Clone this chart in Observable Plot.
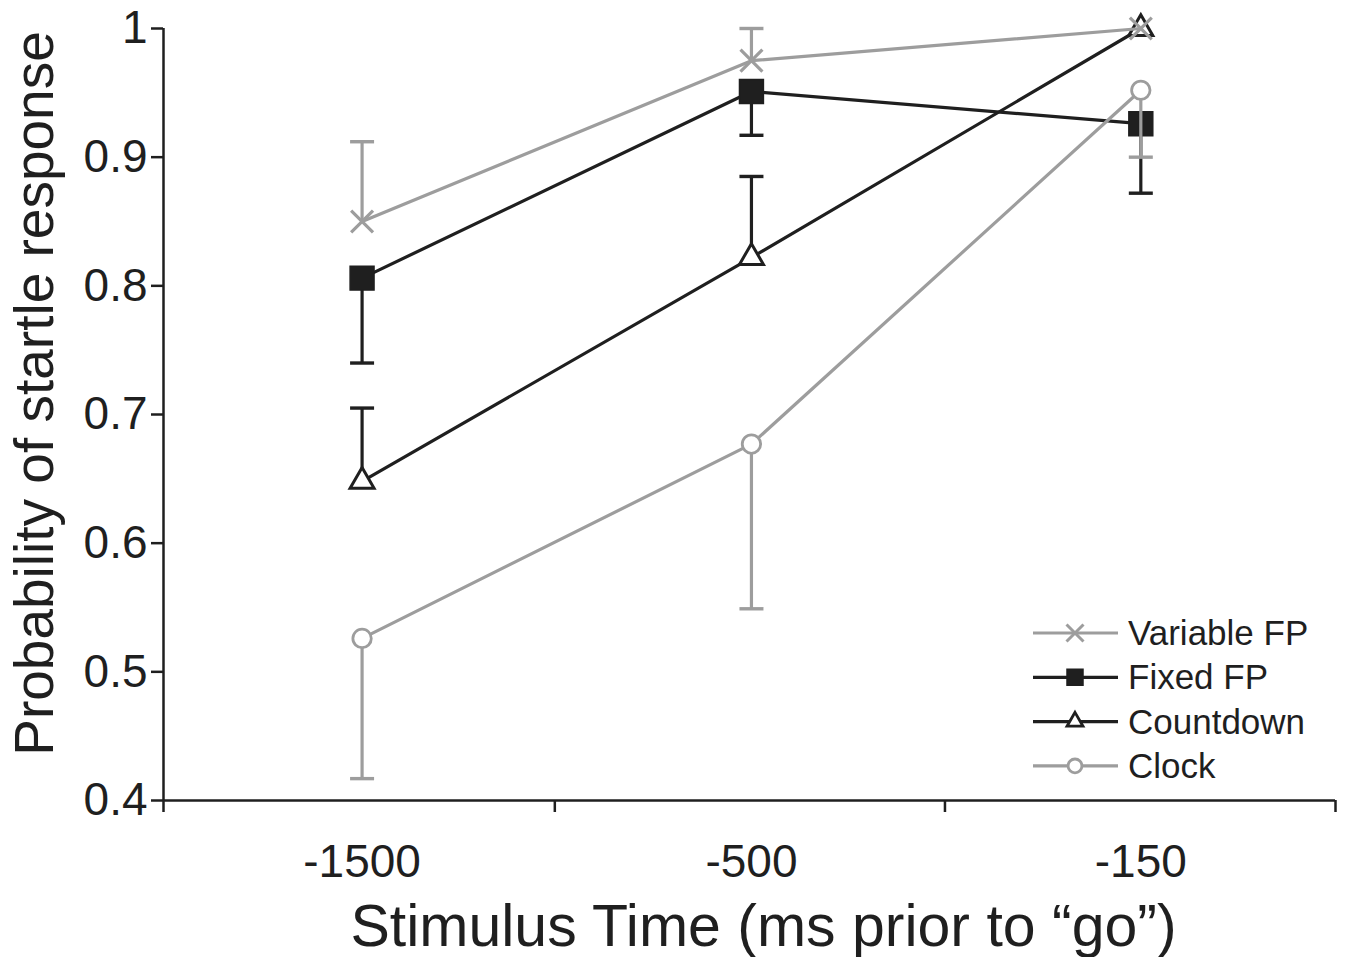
<!DOCTYPE html>
<html>
<head>
<meta charset="utf-8">
<script src="https://cdn.jsdelivr.net/npm/d3@7"></script>
<script src="https://cdn.jsdelivr.net/npm/@observablehq/plot@0.6"></script>
<style>
  html, body { margin: 0; padding: 0; background: #fff; }
  #wrap { position: relative; width: 1345px; height: 957px; }
  #legend { position: absolute; left: 1020px; top: 605px; }
</style>
</head>
<body>
<div id="wrap"><div id="chart"></div><div id="legend"></div></div>
<script>
// ---- data ----
const categories = ["-1500", "-500", "-150"];
const seriesNames = ["Variable FP", "Fixed FP", "Countdown", "Clock"];
const variableFP = [0.85, 0.975, 1.0];
const variableFPErr = [0.062, 0.025, 0];     // upper error
const fixedFP = [0.806, 0.951, 0.926];
const fixedFPErr = [0.066, 0.034, 0.054];    // lower error
const countdown = [0.648, 0.822, 1.0];
const countdownErr = [0.057, 0.063, 0];      // upper error
const clock = [0.526, 0.677, 0.952];
const clockErr = [0.109, 0.128, 0.052];      // lower error
const yTicks = [0.4, 0.5, 0.6, 0.7, 0.8, 0.9, 1];
const xDomain = [-0.51, 2.5];
const xBoundaries = [-0.51, 0.495, 1.497, 2.5];

const BLACK = "#1f1f1f", GRAY = "#9d9d9d";
const FONT = "'Liberation Sans', Arial, Helvetica, sans-serif";

const capSymbol = { draw(ctx, size) { const w = Math.sqrt(size) / 2; ctx.moveTo(-w, 0); ctx.lineTo(w, 0); } };

const series = [
  { name: "Fixed FP", values: fixedFP, err: fixedFPErr, dir: -1, color: BLACK, symbol: "square", fill: BLACK, r: 13.5, sw: 1.5 },
  { name: "Countdown", values: countdown, err: countdownErr, dir: 1, color: BLACK, symbol: "triangle", fill: "white", r: 8.9, sw: 3 },
  { name: "Variable FP", values: variableFP, err: variableFPErr, dir: 1, color: GRAY, symbol: "times", fill: "none", r: 10, sw: 3.2 },
  { name: "Clock", values: clock, err: clockErr, dir: -1, color: GRAY, symbol: "circle", fill: "white", r: 9.2, sw: 2.8 }
];

const marks = [];
for (const s of series) {
  const rows = categories.map((c, i) => ({ i, v: s.values[i], e: s.values[i] + s.dir * s.err[i], hasErr: s.err[i] > 0 }));
  const errRows = rows.filter(d => d.hasErr);
  marks.push(Plot.line(rows, { x: "i", y: "v", stroke: s.color, strokeWidth: 3.2 }));
  marks.push(Plot.ruleX(errRows, { x: "i", y1: "v", y2: "e", stroke: s.color, strokeWidth: 3.2 }));
  marks.push(Plot.dot(errRows, { x: "i", y: "e", symbol: capSymbol, r: 24 / Math.sqrt(Math.PI), stroke: s.color, strokeWidth: 3.4 }));
  marks.push(Plot.dot(rows, { x: "i", y: "v", symbol: s.symbol, r: s.r, stroke: s.color, fill: s.fill, strokeWidth: s.sw, strokeLinejoin: "miter" }));
}

const chart = Plot.plot({
  width: 1345,
  height: 957,
  marginLeft: 163,
  marginRight: 10,
  marginTop: 28,
  marginBottom: 157,
  style: { fontFamily: FONT, background: "white", color: BLACK },
  x: { type: "linear", domain: xDomain },
  y: { domain: [yTicks[0], yTicks[yTicks.length - 1]] },
  marks: [
    Plot.ruleX([xDomain[0]], { y1: yTicks[0], y2: yTicks[yTicks.length - 1], stroke: BLACK, strokeWidth: 2.5 }),
    Plot.ruleY([yTicks[0]], { x1: xDomain[0], x2: xDomain[1], stroke: BLACK, strokeWidth: 2.5 }),
    Plot.axisY({ ticks: yTicks, tickSize: 12, tickPadding: 4, strokeWidth: 2.5, fontSize: 46, label: null,
      tickFormat: d => (d === 1 ? "1" : d.toFixed(1)), color: BLACK }),
    Plot.axisX({ ticks: xBoundaries, tickSize: 12, strokeWidth: 2.5, tickFormat: () => "", label: null, color: BLACK }),
    Plot.axisX({ ticks: [0, 1, 2], tickSize: 0, tickPadding: 44, fontSize: 46, label: null,
      tickFormat: i => categories[i], color: BLACK }),
    Plot.text(["Stimulus Time (ms prior to \u201cgo\u201d)"], { frameAnchor: "bottom", dy: 145, dx: 14, lineAnchor: "bottom", textAnchor: "middle", fontSize: 59, fill: BLACK }),
    Plot.text(["Probability of startle response"], { frameAnchor: "left", rotate: -90, dx: -128, dy: -21, lineAnchor: "middle", textAnchor: "middle", fontSize: 55, fill: BLACK }),
    ...marks
  ]
});
document.getElementById("chart").appendChild(chart);

// ---- legend ----
const legendSpec = [
  { name: seriesNames[0], color: GRAY, type: d3.symbolTimes, size: 190, fill: "none", sw: 3 },
  { name: seriesNames[1], color: BLACK, type: d3.symbolSquare, size: 256, fill: BLACK, sw: 1.5 },
  { name: seriesNames[2], color: BLACK, type: d3.symbolTriangle, size: 110, fill: "white", sw: 2.8 },
  { name: seriesNames[3], color: GRAY, type: d3.symbolCircle, size: 150, fill: "white", sw: 2.8 }
];
const lsvg = d3.select("#legend").append("svg").attr("width", 320).attr("height", 190);
const rowH = 44.3, lineX0 = 13, lineX1 = 98, markX = 55, textX = 108, y0 = 28;
const g = lsvg.selectAll("g").data(legendSpec).join("g").attr("transform", (d, i) => `translate(0,${y0 + i * rowH})`);
g.append("line").attr("x1", lineX0).attr("x2", lineX1).attr("stroke", d => d.color).attr("stroke-width", 3.2);
g.append("path").attr("transform", `translate(${markX},0)`).attr("d", d => d3.symbol(d.type, d.size)())
  .attr("fill", d => d.fill).attr("stroke", d => d.color).attr("stroke-width", d => d.sw);
g.append("text").attr("x", textX).attr("y", 12).text(d => d.name)
  .attr("font-family", FONT).attr("font-size", 35).attr("fill", BLACK);
</script>
</body>
</html>
